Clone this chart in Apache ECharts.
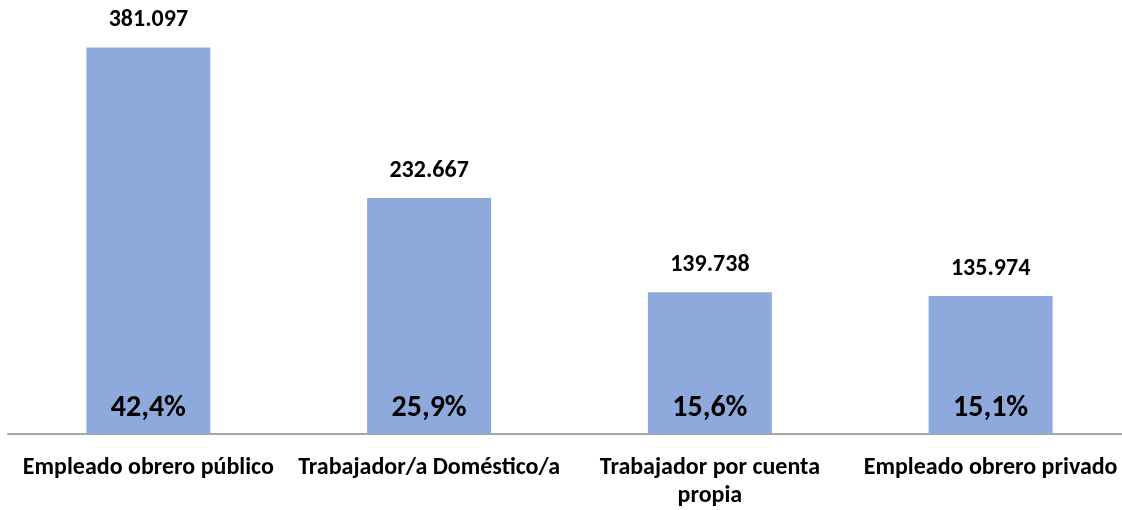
<!DOCTYPE html>
<html>
<head>
<meta charset="utf-8">
<script src="https://cdn.jsdelivr.net/npm/echarts@6/dist/echarts.min.js"></script>
<style>
html, body { margin: 0; padding: 0; background: #fff; overflow: hidden; }
#container { width: 1131px; height: 510px; }
</style>
</head>
<body>
<div id="container"></div>
<script>
// categorías y valores
var categorias = ['Empleado obrero público', 'Trabajador/a Doméstico/a', 'Trabajador por cuenta\npropia', 'Empleado obrero privado'];
var valores = [381.097, 232.667, 139.738, 135.974];
var porcentajes = ['42,4%', '25,9%', '15,6%', '15,1%'];

var fuente = 'Carlito, "Open Sans", "Noto Sans", sans-serif';

// el área del gráfico sobrepasa un poco el borde derecho, como en el original
var myChart = echarts.init(document.getElementById('container'));
var option = {
    animation: false,
    grid: { left: 8, right: 0, top: 8, bottom: 71.5 },
    xAxis: {
        type: 'category',
        data: categorias,
        axisLine: { lineStyle: { color: '#A6A6A6', width: 2 } },
        axisTick: { show: false },
        axisLabel: {
            interval: 0,
            color: '#000',
            fontFamily: fuente,
            fontWeight: 'bold',
            fontSize: 24,
            lineHeight: 28,
            margin: 20
        }
    },
    yAxis: {
        type: 'value',
        min: 0,
        max: 420,
        show: false,
        splitLine: { show: false }
    },
    series: [
        {
            type: 'bar',
            data: valores,
            barWidth: 124,
            itemStyle: { color: '#8EA9DB' },
            label: {
                show: true,
                position: 'top',
                distance: 15,
                color: '#000',
                fontFamily: fuente,
                fontWeight: 'bold',
                fontSize: 24,
                formatter: function (p) {
                    return p.value.toFixed(3);
                }
            }
        },
        {
            // etiquetas de porcentaje dentro de la barra
            type: 'bar',
            data: valores,
            barWidth: 124,
            barGap: '-100%',
            itemStyle: { color: 'transparent' },
            label: {
                show: true,
                position: 'insideBottom',
                distance: 11,
                color: '#000',
                fontFamily: fuente,
                fontWeight: 'bold',
                fontSize: 30,
                formatter: function (p) {
                    return porcentajes[p.dataIndex];
                }
            }
        }
    ]
};
myChart.setOption(option);
</script>
</body>
</html>
